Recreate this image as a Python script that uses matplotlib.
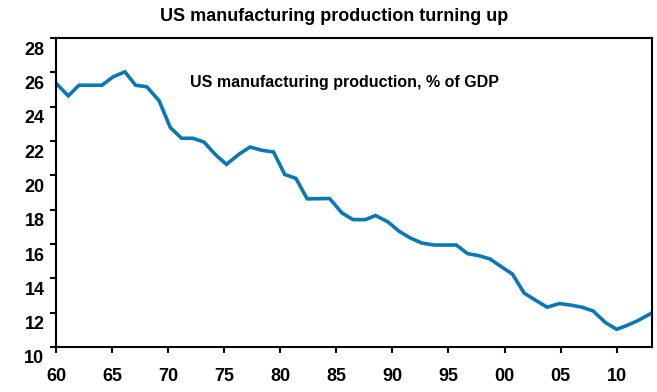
import numpy as np
import matplotlib.pyplot as plt
import matplotlib.transforms as mtransforms

plt.rcParams['font.family'] = ['Liberation Sans', 'DejaVu Sans']

# Data (year, % of GDP)
years = [1960.0, 1961.1, 1962.05, 1964.1, 1965.1, 1966.15, 1967.1, 1968.1, 1969.2,
         1970.2, 1971.2, 1972.2, 1973.2, 1974.2, 1975.2, 1976.3, 1977.3, 1978.35,
         1979.4, 1980.4, 1981.4, 1982.4, 1984.4, 1985.5, 1986.5, 1987.6, 1988.5,
         1989.6, 1990.6, 1991.6, 1992.6, 1993.7, 1995.7, 1996.7, 1997.7, 1998.7,
         1999.75, 2000.7, 2001.75, 2002.8, 2003.8, 2004.9, 2005.9, 2006.9, 2007.9,
         2009.0, 2010.0, 2010.9, 2011.9, 2013.1]
mfg_share = [25.37, 24.63, 25.25, 25.25, 25.74, 26.03, 25.25, 25.16, 24.34,
             22.78, 22.16, 22.16, 21.94, 21.22, 20.64, 21.22, 21.65, 21.46,
             21.36, 20.05, 19.82, 18.63, 18.65, 17.81, 17.42, 17.42, 17.66,
             17.29, 16.74, 16.35, 16.06, 15.94, 15.94, 15.44, 15.32, 15.13,
             14.66, 14.25, 13.14, 12.71, 12.32, 12.53, 12.44, 12.32, 12.10,
             11.42, 11.03, 11.25, 11.54, 11.97]

xticks = [1960, 1965, 1970, 1975, 1980, 1985, 1990, 1995, 2000, 2005, 2010]
xlabels = ['60', '65', '70', '75', '80', '85', '90', '95', '00', '05', '10']

fig = plt.figure(figsize=(6.57, 3.92), dpi=100)
ax = fig.add_axes([0.0852, 0.1148, 0.9924 - 0.0852, 0.903 - 0.1148])

ax.plot(years, mfg_share, color='#0a78b4', linewidth=2.6, solid_joinstyle='miter')

ax.set_xlim(1960, 2013.15)
ax.set_ylim(10, 28)
ax.set_yticks(np.arange(10, 29, 2))
ax.set_xticks(xticks)
ax.set_xticklabels(xlabels)

for s in ax.spines.values():
    s.set_linewidth(1.5)
    s.set_color('black')
ax.tick_params(axis='both', direction='out', length=4.3, width=1.5,
               labelsize=13)
ax.tick_params(axis='y', pad=4)
ax.tick_params(axis='x', pad=11)

# y labels sit a little below their ticks in the original
shift = mtransforms.ScaledTranslation(0, -0.10, fig.dpi_scale_trans)
for lab in ax.get_yticklabels():
    lab.set_transform(lab.get_transform() + shift)
for lab in ax.get_xticklabels() + ax.get_yticklabels():
    lab.set_fontweight('bold')

fig.text(0.508, 0.958, 'US manufacturing production turning up',
         ha='center', va='center', fontsize=13, fontweight='bold')
ax.text(0.225, 0.857, 'US manufacturing production, % of GDP',
        transform=ax.transAxes, fontsize=11.5, fontweight='bold',
        ha='left', va='center')

fig.savefig('out.png', dpi=100)
